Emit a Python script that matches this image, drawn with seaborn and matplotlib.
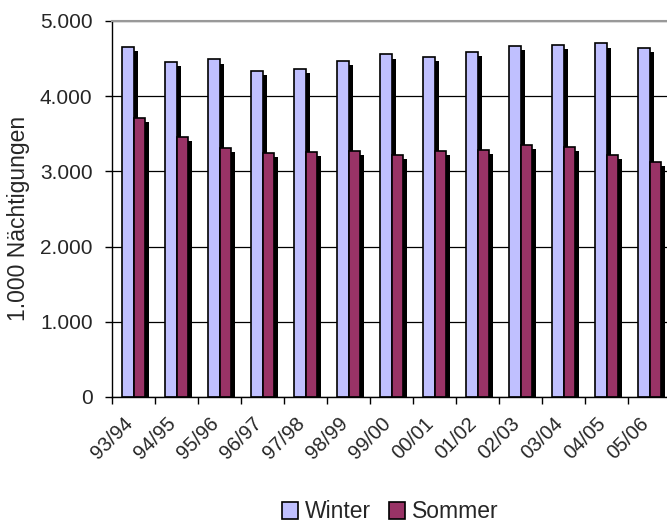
import numpy as np
import pandas as pd
import seaborn as sns
import matplotlib.pyplot as plt
import matplotlib.patheffects as pe
import matplotlib.transforms as mtrans
from matplotlib.patches import Patch
from matplotlib.ticker import FuncFormatter, MultipleLocator

# Werte in 1.000 Nächtigungen
saisons = ['93/94', '94/95', '95/96', '96/97', '97/98', '98/99', '99/00',
           '00/01', '01/02', '02/03', '03/04', '04/05', '05/06']
winter = [4655, 4460, 4490, 4340, 4365, 4470, 4555, 4518, 4592, 4672, 4685, 4703, 4637]
sommer = [3707, 3463, 3308, 3250, 3264, 3273, 3224, 3268, 3290, 3352, 3326, 3224, 3127]

farben = {'Winter': '#C0C0FF', 'Sommer': '#993366'}

df = pd.DataFrame({'Saison': saisons * 2,
                   'Wert': winter + sommer,
                   'Reihe': ['Winter'] * len(saisons) + ['Sommer'] * len(saisons)})

sns.set_style('white')
plt.rcParams['font.family'] = ['Liberation Sans', 'DejaVu Sans']

fig = plt.figure(figsize=(6.67, 5.29), dpi=100)
ax = fig.add_axes([112 / 667, 1 - 397 / 529, 559 / 667, 376 / 529])

sns.barplot(data=df, x='Saison', y='Wert', hue='Reihe', palette=farben,
            width=0.53, edgecolor='black', linewidth=1.2, saturation=1,
            legend=False, ax=ax)

# Excel-Schatten
for p in ax.patches:
    p.set_path_effects([pe.SimplePatchShadow(offset=(3, -3), shadow_rgbFace='black', alpha=1),
                        pe.Normal()])

ax.set_xlim(-0.5, len(saisons) - 0.5)
ax.set_ylim(0, 5000)
ax.yaxis.set_major_locator(MultipleLocator(1000))
ax.yaxis.set_major_formatter(FuncFormatter(lambda v, p: f'{int(v):,}'.replace(',', '.')))
ax.yaxis.grid(True, color='black', linewidth=0.9)
ax.set_axisbelow(True)

for s in ['top', 'right']:
    ax.spines[s].set_color('#999999')
    ax.spines[s].set_linewidth(1.5)
ax.spines['left'].set_color('black')
ax.spines['bottom'].set_color('black')
ax.spines['left'].set_linewidth(1)
ax.spines['bottom'].set_linewidth(1)

ax.set_xticks(np.arange(len(saisons)) - 0.5, minor=True)
ax.tick_params(axis='x', which='minor', length=5, width=1, color='black', direction='out', bottom=True)
ax.tick_params(axis='x', which='major', length=0, pad=12, labelsize=14.5)
ax.tick_params(axis='y', length=5, width=1, color='black', direction='out', left=True, labelsize=15, pad=9)
ax.set_xticks(np.arange(len(saisons)))
ax.set_xticklabels(saisons, rotation=45, ha='right', rotation_mode='anchor')
verschub = mtrans.ScaledTranslation(-0.1, 0, fig.dpi_scale_trans)
for lab in ax.get_xticklabels():
    lab.set_transform(lab.get_transform() + verschub)

ax.set_xlabel('')
ax.set_ylabel('1.000 Nächtigungen', fontsize=16.5)
ax.yaxis.set_label_coords(-0.147, 0.476)

handles = [Patch(facecolor=farben[k], edgecolor='black', linewidth=1.2, label=k) for k in ['Winter', 'Sommer']]
fig.legend(handles=handles, loc='center', bbox_to_anchor=(390 / 667, 1 - 512 / 529), ncol=2,
           frameon=False, fontsize=16.5, handlelength=0.7, handleheight=0.7,
           handletextpad=0.3, columnspacing=0.8, borderaxespad=0)

fig.savefig('out.png', dpi=100)
